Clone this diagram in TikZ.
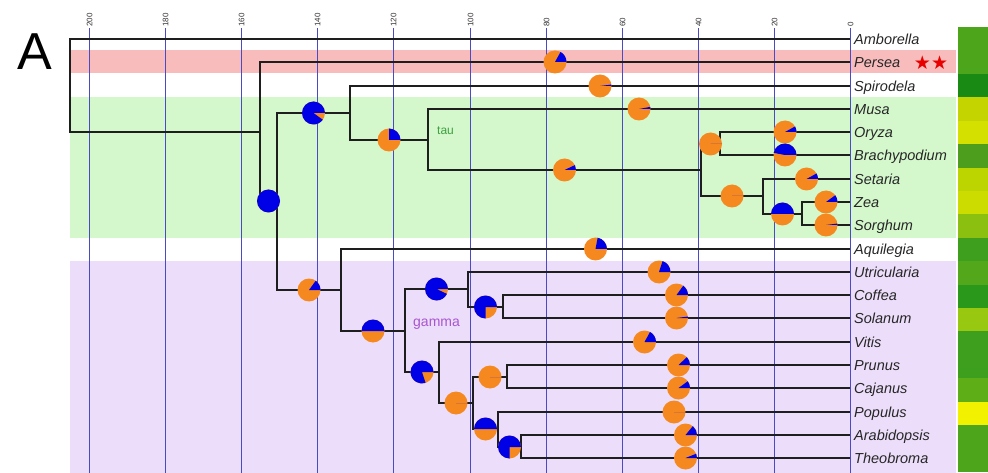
\documentclass[tikz,border=0pt]{standalone}
\usepackage{fontspec}
\setmainfont{Liberation Sans}
\newfontfamily\starfont{DejaVu Sans}
\usetikzlibrary{calc}
\definecolor{pinkb}{HTML}{F9BCBC}
\definecolor{greenb}{HTML}{D4F8CC}
\definecolor{lavb}{HTML}{ECDEFA}
\definecolor{gridc}{HTML}{4A4AC4}
\definecolor{treec}{HTML}{1E1E1E}
\definecolor{pieor}{HTML}{F5891F}
\definecolor{pieblue}{HTML}{0000E6}
\definecolor{taucol}{HTML}{3FA03F}
\definecolor{gamcol}{HTML}{A855D0}
\definecolor{starred}{HTML}{E80000}
\newcommand\mypie[3]{%
  \coordinate (pcen) at ($(#1 |- #2)!0.5!(#2)$);
  \fill[pieor] (pcen) circle[radius=11.5pt];
  \fill[pieblue] (pcen) -- ++(0:11.5pt) arc[start angle=0, end angle={360*#3}, radius=11.5pt] -- cycle;
}
\begin{document}
\begin{tikzpicture}[x=1pt,y=1pt,
  tree/.style={draw=treec, line width=2pt, line join=miter},
  gridl/.style={draw=gridc, line width=1.3pt},
  ticklab/.style={rotate=90, anchor=west, inner sep=0pt, font=\fontsize{8}{8}\selectfont, text=black!80},
  taxon/.style={anchor=base west, inner sep=0pt, font=\fontsize{14.5}{15}\selectfont\itshape, text=black!85}]
\useasboundingbox (0,0) rectangle (988,-473);
% background bands
\fill[pinkb] (70,-50.5) rectangle (956,-73.5);
\fill[greenb] (70,-97) rectangle (956,-238);
\fill[lavb] (70,-261) rectangle (956,-473);
% colour strip
\foreach \h [count=\i from 0] in {4CA51A,4CA51A,198A14,C4D400,D4E000,4C9E1C,BCD400,CCDC00,8CC010,3E9E1E,52A81A,2A981A,98C810,3E9E1E,3E9E1E,5EAE18,F2F200,4CA51A,4CA51A}{
  \definecolor{tmpc}{HTML}{\h}
  \fill[tmpc] (958,{-27-23.42*\i}) rectangle (988,{-27-23.42*(\i+1)});
}
% grid lines
\foreach \a in {0,20,...,200}{
  \pgfmathsetmacro\gx{round(850-3.805*\a)+0.5}
  \draw[gridl] (\gx,-28) -- (\gx,-473);
  \node[ticklab] (tick\a) at (\gx,-27) {\a};
}
% tips
\coordinate (Amb) at (850,-39);
\coordinate (Per) at (850,-62);
\coordinate (Spi) at (850,-86);
\coordinate (Mus) at (850,-109);
\coordinate (Ory) at (850,-132);
\coordinate (Bra) at (850,-155);
\coordinate (Set) at (850,-179);
\coordinate (Zea) at (850,-202);
\coordinate (Sor) at (850,-225);
\coordinate (Aqu) at (850,-249);
\coordinate (Utr) at (850,-272);
\coordinate (Cof) at (850,-295);
\coordinate (Sol) at (850,-318);
\coordinate (Vit) at (850,-342);
\coordinate (Pru) at (850,-365);
\coordinate (Caj) at (850,-388);
\coordinate (Pop) at (850,-412);
\coordinate (Ara) at (850,-435);
\coordinate (The) at (850,-458);
% internal nodes
\coordinate (root) at (70,-85);
\coordinate (n1) at (260,-132);
\coordinate (n2) at (277,-201);
\coordinate (m) at (350,-113);
\coordinate (m2) at (428,-140);
\coordinate (p) at (701,-170);
\coordinate (o) at (720,-144);
\coordinate (s) at (763,-196);
\coordinate (zs) at (802,-214);
\coordinate (e) at (341,-290);
\coordinate (e2) at (405,-331);
\coordinate (a) at (468,-289);
\coordinate (cs) at (503,-307);
\coordinate (r) at (439,-372);
\coordinate (r2) at (473,-403);
\coordinate (pc) at (507,-377);
\coordinate (pat) at (498,-429);
\coordinate (at) at (521,-447);
% branches
\draw[tree] (root) |- (Amb) (root) |- (n1)
  (n1) |- (Per) (n1) |- (n2)
  (n2) |- (m) (n2) |- (e)
  (m) |- (Spi) (m) |- (m2)
  (m2) |- (Mus) (m2) |- (p)
  (p) |- (o) (p) |- (s)
  (o) |- (Ory) (o) |- (Bra)
  (s) |- (Set) (s) |- (zs)
  (zs) |- (Zea) (zs) |- (Sor)
  (e) |- (Aqu) (e) |- (e2)
  (e2) |- (a) (e2) |- (r)
  (a) |- (Utr) (a) |- (cs)
  (cs) |- (Cof) (cs) |- (Sol)
  (r) |- (Vit) (r) |- (r2)
  (r2) |- (pc) (r2) |- (pat)
  (pc) |- (Pru) (pc) |- (Caj)
  (pat) |- (Pop) (pat) |- (at)
  (at) |- (Ara) (at) |- (The);
% pies
\mypie{n1}{n2}{1}
\mypie{n2}{m}{0.9}
\mypie{m}{m2}{0.25}
\mypie{n1}{Per}{0.17}
\mypie{m}{Spi}{0.02}
\mypie{m2}{Mus}{0.03}
\mypie{m2}{p}{0.07}
\mypie{p}{o}{0}
\mypie{o}{Ory}{0.08}
\mypie{o}{Bra}{0.47}
\mypie{p}{s}{0}
\mypie{s}{Set}{0.08}
\mypie{s}{zs}{0.5}
\mypie{zs}{Zea}{0.1}
\mypie{zs}{Sor}{0.02}
\mypie{n2}{e}{0.15}
\mypie{e}{Aqu}{0.22}
\mypie{e}{e2}{0.5}
\mypie{e2}{a}{0.93}
\mypie{a}{Utr}{0.2}
\mypie{a}{cs}{0.75}
\mypie{cs}{Cof}{0.15}
\mypie{cs}{Sol}{0.02}
\mypie{e2}{r}{0.8}
\mypie{r}{Vit}{0.17}
\mypie{r}{r2}{0}
\mypie{r2}{pc}{0}
\mypie{pc}{Pru}{0.12}
\mypie{pc}{Caj}{0.1}
\mypie{r2}{pat}{0.5}
\mypie{pat}{Pop}{0}
\mypie{pat}{at}{0.75}
\mypie{at}{Ara}{0.14}
\mypie{at}{The}{0.06}
% taxon labels
\foreach \c/\t in {Amb/Amborella,Per/Persea,Spi/Spirodela,Mus/Musa,Ory/Oryza,Bra/Brachypodium,Set/Setaria,Zea/Zea,Sor/Sorghum,Aqu/Aquilegia,Utr/Utricularia,Cof/Coffea,Sol/Solanum,Vit/Vitis,Pru/Prunus,Caj/Cajanus,Pop/Populus,Ara/Arabidopsis,The/Theobroma}{
  \node[taxon] (lab\c) at ($(\c)+(4,-5.2)$) {\t};
}
\node[inner sep=0pt, text=starred, font=\starfont\fontsize{19}{19}\selectfont] (stars) at (931,-62.3) {★★};
\node[inner sep=0pt, text=taucol, font=\fontsize{12}{12}\selectfont, anchor=west] (tau) at (437,-131) {tau};
\node[inner sep=0pt, text=gamcol, font=\fontsize{14}{14}\selectfont, anchor=west] (gamma) at (413,-324) {gamma};
\node[inner sep=0pt, font=\fontsize{52}{52}\selectfont] (Alab) at (34.5,-51.5) {A};
\end{tikzpicture}
\end{document}
